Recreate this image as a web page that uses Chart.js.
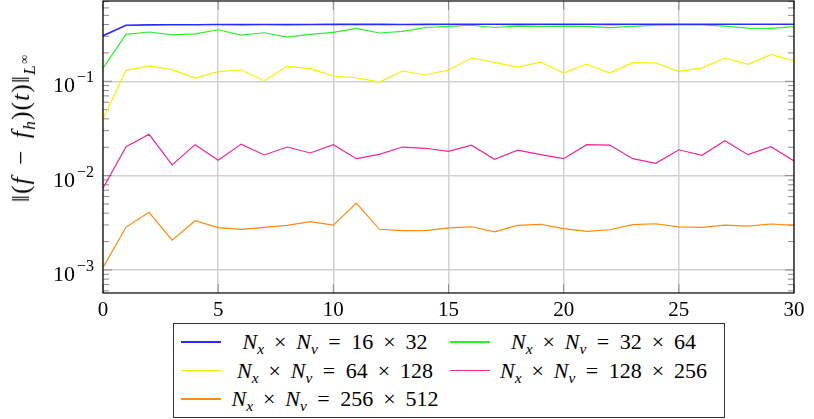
<!DOCTYPE html>
<html>
<head>
<meta charset="utf-8">
<script src="https://cdn.jsdelivr.net/npm/chart.js@4"></script>
<style>
  body { margin: 0; background: #fff; }
  #wrap { position: relative; width: 814px; height: 419px; }
  #chart { position: absolute; left: 0; top: 0; }
  .m { font-family: "Liberation Serif", "DejaVu Serif", serif; color: #000; }
  #ylab { position: absolute; left: 21px; top: 128px; transform: translate(-50%, -50%) rotate(-90deg);
          white-space: nowrap; font-size: 25px; letter-spacing: 0.05em; }
  #legend { position: absolute; left: 173px; top: 323px; width: 550px; height: 93px;
            border: 1px solid #333; background: #fff; }
  .cell { position: absolute; top: 0; height: 28px; display: flex; align-items: center; }
  .sample { display: inline-block; height: 1.6px; width: 40px; }
  .txt { flex: 1; text-align: center; font-size: 22px; white-space: nowrap; }
  .op { margin: 0 0.45em; }
  .rel { margin: 0 0.48em; }
  i { font-style: italic; }
  sub, sup { font-size: 70%; line-height: 0; }
</style>
</head>
<body>
<div id="wrap">
  <canvas id="chart" width="814" height="419"></canvas>
  <div id="ylab" class="m">‖(<i>f</i><span class="op">−</span><i>f</i><sub><i>h</i></sub>)(<i>t</i>)‖<sub><i>L</i><sup>∞</sup></sub></div>
  <div id="legend" class="m"></div>
</div>
<script>
// time steps
const times = [0,1,2,3,4,5,6,7,8,9,10,11,12,13,14,15,16,17,18,19,20,21,22,23,24,25,26,27,28,29,30];

// error per grid size
const err16x32 = [0.304, 0.393, 0.396, 0.397, 0.398, 0.400, 0.399, 0.400, 0.399, 0.400, 0.401, 0.401, 0.401, 0.400, 0.401, 0.402,
  0.402, 0.402, 0.401, 0.402, 0.402, 0.402, 0.401, 0.402, 0.402, 0.402, 0.402, 0.402, 0.402, 0.402, 0.402];
const err32x64 = [0.138, 0.314, 0.333, 0.311, 0.319, 0.352, 0.309, 0.327, 0.294, 0.314, 0.330, 0.364, 0.325, 0.338, 0.372, 0.382,
  0.393, 0.372, 0.385, 0.382, 0.385, 0.382, 0.371, 0.382, 0.393, 0.396, 0.396, 0.385, 0.367, 0.364, 0.379];
const err64x128 = [0.0396, 0.1306, 0.146, 0.133, 0.1083, 0.1264, 0.1318, 0.1015, 0.144, 0.136, 0.1138, 0.109, 0.0983, 0.1285, 0.1166, 0.1318,
  0.1765, 0.159, 0.1416, 0.160, 0.1225, 0.1524, 0.1225, 0.1574, 0.1563, 0.1276, 0.139, 0.1765, 0.151, 0.193, 0.164];
const err128x256 = [0.00736, 0.0203, 0.0274, 0.0130, 0.0213, 0.01456, 0.0216, 0.01656, 0.0201, 0.01738, 0.0213, 0.01513, 0.01683, 0.0201, 0.0195, 0.0181,
  0.0210, 0.0149, 0.0186, 0.01668, 0.01513, 0.0213, 0.0211, 0.01513, 0.01352, 0.0188, 0.01644, 0.0234, 0.01668, 0.0203, 0.0143];
const err256x512 = [0.00106, 0.00285, 0.00408, 0.00207, 0.00333, 0.00281, 0.00270, 0.00283, 0.00297, 0.00325, 0.00299, 0.00512, 0.00270, 0.00261, 0.00261, 0.00280,
  0.00287, 0.00254, 0.00297, 0.00305, 0.00274, 0.00257, 0.00267, 0.00302, 0.00309, 0.00287, 0.00283, 0.00299, 0.00292, 0.00307, 0.00297];

const gridNx = ["16", "32", "64", "128", "256"];
const gridNv = ["32", "64", "128", "256", "512"];
const allSeries = [err16x32, err32x64, err64x128, err128x256, err256x512];
const colors = ["#2a2aff", "#2cf02c", "#f6f000", "#f0259a", "#ff8a10"];
const xTicks = [0, 5, 10, 15, 20, 25, 30];

const FONT = '"Liberation Serif", "DejaVu Serif", serif';

function isDecade(v) {
  const l = Math.log10(v);
  return Math.abs(l - Math.round(l)) < 1e-9;
}

// box, inward ticks and y labels like pgfplots
const frame = {
  id: "frame",
  beforeDatasetsDraw(chart) {
    const { ctx, chartArea: a, scales } = chart;
    const y = scales.y, x = scales.x;
    ctx.save();
    ctx.strokeStyle = "#8a8a8a";
    ctx.lineWidth = 1;
    const lo = Math.floor(Math.log10(y.min)), hi = Math.ceil(Math.log10(y.max));
    for (let e = lo; e <= hi; e++) {
      for (let m = 1; m <= 9; m++) {
        const v = m * Math.pow(10, e);
        if (v < y.min || v > y.max) continue;
        const py = y.getPixelForValue(v);
        const len = m === 1 ? 9 : 6;
        ctx.beginPath();
        ctx.moveTo(a.left, py); ctx.lineTo(a.left + len, py);
        ctx.moveTo(a.right, py); ctx.lineTo(a.right - len, py);
        ctx.stroke();
      }
    }
    xTicks.forEach(t => {
      const px = x.getPixelForValue(t);
      ctx.beginPath();
      ctx.moveTo(px, a.bottom); ctx.lineTo(px, a.bottom - 9);
      ctx.moveTo(px, a.top); ctx.lineTo(px, a.top + 9);
      ctx.stroke();
    });
    ctx.restore();
  },
  afterDraw(chart) {
    const { ctx, chartArea: a, scales } = chart;
    const y = scales.y;
    ctx.save();
    ctx.strokeStyle = "#000";
    ctx.lineWidth = 1.2;
    ctx.strokeRect(a.left, a.top, a.right - a.left, a.bottom - a.top);
    ctx.fillStyle = "#000";
    ctx.textAlign = "right";
    ctx.textBaseline = "alphabetic";
    const lo = Math.ceil(Math.log10(y.min)), hi = Math.floor(Math.log10(y.max));
    for (let e = lo; e <= hi; e++) {
      const py = y.getPixelForValue(Math.pow(10, e));
      const sup = "−" + Math.abs(e);
      const right = a.left - 9;
      ctx.font = "16px " + FONT;
      const w = ctx.measureText(sup).width;
      ctx.fillText(sup, right, py + 1);
      ctx.font = "22px " + FONT;
      ctx.fillText("10", right - w - 2, py + 11);
    }
    ctx.restore();
  }
};

const datasets = allSeries.map((s, k) => ({
  label: "N_x x N_v = " + gridNx[k] + " x " + gridNv[k],
  data: times.map((t, i) => ({ x: t, y: s[i] })),
  borderColor: colors[k],
  backgroundColor: colors[k],
  borderWidth: k === 0 ? 1.6 : 1.2,
  pointRadius: 0,
  tension: 0,
  fill: false
}));

new Chart(document.getElementById("chart"), {
  type: "line",
  data: { datasets: datasets },
  options: {
    responsive: false,
    animation: false,
    layout: { padding: { top: 1, right: 20, left: 0, bottom: 0 } },
    plugins: { legend: { display: false }, tooltip: { enabled: false } },
    scales: {
      x: {
        type: "linear",
        min: 0,
        max: 30,
        afterBuildTicks: (s) => { s.ticks = xTicks.map(v => ({ value: v })); },
        afterFit: (s) => { s.height = 126; },
        grid: { color: "#d2d2d2", lineWidth: 1.5, drawTicks: false },
        border: { display: false },
        ticks: { color: "#000", font: { family: FONT, size: 21 }, padding: 5, maxRotation: 0 }
      },
      y: {
        type: "logarithmic",
        min: 5.7e-4,
        max: 0.71,
        afterFit: (s) => { s.width = 103; },
        grid: {
          color: (c) => (c.tick && isDecade(c.tick.value)) ? "#d2d2d2" : "rgba(0,0,0,0)",
          lineWidth: 1.5,
          drawTicks: false
        },
        border: { display: false },
        ticks: { display: false, autoSkip: false }
      }
    }
  },
  plugins: [frame]
});

// legend like the pgfplots box, two columns
const legend = document.getElementById("legend");
allSeries.forEach((s, k) => {
  const r = Math.floor(k / 2), c = k % 2;
  const cell = document.createElement("div");
  cell.className = "cell";
  cell.style.top = (4 + r * 28.5) + "px";
  cell.style.left = (c === 0 ? 0 : 275) + "px";
  cell.style.width = (c === 0 ? 275 : 268) + "px";
  cell.innerHTML =
    '<span class="sample" style="background:' + colors[k] + ';margin-left:' + (c === 0 ? 7 : 1) + 'px"></span>' +
    '<span class="txt"><i>N</i><sub><i>x</i></sub><span class="op">×</span><i>N</i><sub><i>v</i></sub><span class="rel">=</span>' +
    gridNx[k] + '<span class="op">×</span>' + gridNv[k] + '</span>';
  legend.appendChild(cell);
});
</script>
</body>
</html>
